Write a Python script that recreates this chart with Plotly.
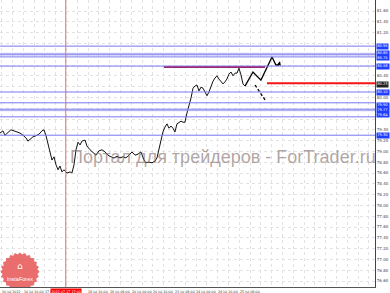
import math
import plotly.graph_objects as go

# ---- data ----
hours = [0, 2.2, 3.7, 5.9, 8.1, 10.4, 12.6, 14.8, 17.0, 19.3, 20.7, 22.2, 24.4, 26.7, 28.9, 31.1,
         32.6, 34.1, 35.6, 37.0, 38.5, 40.0, 41.5, 43.0, 44.4, 45.9, 47.4, 49.6, 51.9, 53.3, 54.8,
         56.3, 57.8, 59.3, 60.7, 63.0, 64.4, 66.7, 68.9, 71.1, 73.3, 75.6, 77.8, 80.0, 82.2, 84.4,
         86.7, 88.9, 91.1, 93.3, 95.6, 97.8, 100.0, 102.2, 104.4, 106.7, 108.1, 110.4, 112.6, 114.8,
         116.3, 117.8, 119.3, 120.7, 122.2, 123.7, 125.2, 126.7, 128.1, 129.6, 131.1, 132.6, 134.1,
         135.6, 137.0, 138.5, 140.0, 141.5, 143.0, 144.4, 145.9, 147.4, 148.9, 150.4, 151.9, 153.3,
         154.8, 156.3, 157.8, 159.3, 160.7, 162.2, 163.7, 165.2, 166.7, 168.1, 169.6, 171.1, 172.6,
         174.1, 175.6, 177.0, 178.5, 180.0, 181.5]
close = [79.34, 79.38, 79.30, 79.36, 79.40, 79.38, 79.36, 79.34, 79.30, 79.25, 79.19, 79.23, 79.27,
         79.29, 79.32, 79.38, 79.40, 79.29, 79.12, 78.99, 78.84, 78.90, 78.75, 78.66, 78.73, 78.62,
         78.66, 78.60, 78.62, 78.60, 78.75, 79.03, 79.17, 79.12, 79.19, 79.21, 79.10, 79.03, 78.97,
         78.93, 79.01, 79.03, 78.99, 78.93, 78.90, 78.88, 78.91, 78.88, 78.90, 78.88, 78.93, 78.99,
         78.93, 78.95, 78.99, 78.84, 78.79, 78.80, 78.79, 78.82, 78.88, 79.06, 79.25, 79.36, 79.45,
         79.51, 79.43, 79.47, 79.43, 79.36, 79.51, 79.53, 79.56, 79.54, 79.54, 79.71, 79.84, 79.99,
         80.17, 80.21, 80.23, 80.12, 80.19, 80.17, 80.10, 80.03, 80.10, 80.21, 80.30, 80.36, 80.40,
         80.34, 80.30, 80.25, 80.29, 80.34, 80.43, 80.47, 80.40, 80.45, 80.45, 80.54, 80.42, 80.25,
         80.21]

levels = [80.95, 80.80, 80.75, 80.58, 80.10, 79.90, 79.77, 79.64, 79.30]
band_levels = [80.80, 79.77]
# level price tags, grouped where tags touch on the axis
level_tags = [[80.95], [80.80, 80.75], [80.58], [80.10], [79.90, 79.77, 79.64], [79.30]]
current_price = 80.23

resistance_start, resistance_end, resistance_level = 121.5, 196.3, 80.56
red_start, red_level = 197.8, 80.26

forecast_hours = [181.5, 187.4, 193.3, 201.5, 204.4, 206.7]
forecast_price = [80.21, 80.47, 80.32, 80.75, 80.60, 80.60]
alt_hours = [188.9, 197.0]
alt_price = [80.23, 79.93]

vline_hour = 48.7
vline_label = "2012.07.17 17:00"
date_hours = [0, 16, 32, 64, 80, 96, 112, 128, 144, 160, 176]
date_labels = ["16 Jul 2012", "16 Jul 16:00", "17 Jul 08:00", "18 Jul 16:00",
               "19 Jul 08:00", "20 Jul 00:00", "20 Jul 16:00", "23 Jul 08:00", "24 Jul 00:00",
               "24 Jul 16:00", "25 Jul 08:00"]
price_ticks = [round(81.80 - 0.2 * k, 2) for k in range(27)]

X_RANGE = [0, 277.8]
Y_RANGE = [76.489, 81.804]

fig = go.Figure()

fig.add_trace(go.Scatter(x=hours, y=close, mode="lines",
                         line=dict(color="#111111", width=1), hoverinfo="skip"))
fig.add_trace(go.Scatter(x=forecast_hours, y=forecast_price, mode="lines",
                         line=dict(color="#000000", width=1.3), hoverinfo="skip"))
fig.add_trace(go.Scatter(x=alt_hours, y=alt_price, mode="lines",
                         line=dict(color="#000000", width=1.3, dash="3px,2px"), hoverinfo="skip"))

shapes = []
for lv in levels:
    shapes.append(dict(type="line", xref="paper", x0=0, x1=1, yref="y", y0=lv, y1=lv,
                       line=dict(color="rgb(120,120,240)", width=1), layer="above"))
for lv in band_levels:
    shapes.append(dict(type="line", xref="paper", x0=0, x1=1, yref="y", y0=lv, y1=lv,
                       line=dict(color="rgba(150,150,240,0.5)", width=3), layer="above"))
shapes.append(dict(type="line", xref="x", x0=resistance_start, x1=resistance_end, yref="y",
                   y0=resistance_level, y1=resistance_level,
                   line=dict(color="rgb(150,40,120)", width=1.6), layer="above"))
shapes.append(dict(type="line", xref="x", x0=red_start, x1=X_RANGE[1], yref="y",
                   y0=red_level, y1=red_level, line=dict(color="rgb(245,20,20)", width=2),
                   layer="above"))
shapes.append(dict(type="line", xref="x", x0=vline_hour, x1=vline_hour, yref="paper", y0=0, y1=1,
                   line=dict(color="rgb(240,110,110)", width=1), layer="above"))

# InstaForex seal (decorative)
cx, cy = 14.8, 76.77
rx, ry = 14.5, 0.36
pts = []
n = 48
for i in range(n):
    a = 2 * math.pi * i / n
    r = 1.0 if i % 2 == 0 else 0.9
    pts.append((cx + rx * r * math.cos(a), cy + ry * r * math.sin(a)))
path = "M " + " L ".join(f"{px:.3f},{py:.4f}" for px, py in pts) + " Z"
shapes.append(dict(type="path", path=path, xref="x", yref="y",
                   fillcolor="rgba(232,85,85,0.85)", line=dict(width=0), layer="above"))

annotations = []
annotations.append(dict(text="Портал для трейдеров - ForTrader.ru", xref="paper", yref="paper",
                        x=68 / 375, y=1 - 157 / 287, xanchor="left", yanchor="middle",
                        showarrow=False,
                        font=dict(family="Liberation Sans", size=18, color="rgba(125,105,105,0.6)")))
annotations.append(dict(text="InstaForex", x=cx, y=cy - 0.13, xref="x", yref="y", showarrow=False,
                        font=dict(family="Liberation Sans", size=5.5, color="white")))
annotations.append(dict(text="⌂", x=cx, y=cy + 0.1, xref="x", yref="y", showarrow=False,
                        font=dict(family="DejaVu Sans", size=9, color="white")))
for h, t in zip(date_hours, date_labels):
    annotations.append(dict(text=t, x=h, xref="x", y=0, yref="paper", yshift=-1,
                            xanchor="left", yanchor="top", showarrow=False,
                            font=dict(family="DejaVu Sans", size=3.3, color="#333333")))
annotations.append(dict(text=vline_label, x=vline_hour, xref="x", y=0, yref="paper", yshift=-1,
                        xanchor="center", yanchor="top", showarrow=False, bgcolor="#ff0000",
                        borderpad=0.5,
                        font=dict(family="DejaVu Sans", size=3.3, color="white")))
for grp in level_tags:
    ymid = sum(grp) / len(grp)
    annotations.append(dict(text="<br>".join(f"{v:.2f}" for v in grp), x=1, xref="paper",
                            y=ymid, yref="y", xshift=1, xanchor="left", yanchor="middle",
                            showarrow=False, bgcolor="#1f3fff", borderpad=0.3,
                            font=dict(family="DejaVu Sans", size=3.6, color="white")))
annotations.append(dict(text=f"{current_price:.2f}", x=1, xref="paper", y=current_price, yref="y",
                        xshift=1, xanchor="left", yanchor="middle", showarrow=False,
                        bgcolor="#222222", borderpad=0.3,
                        font=dict(family="DejaVu Sans", size=3.6, color="white")))
# arrow heads
annotations.append(dict(x=alt_hours[1], y=alt_price[1], ax=alt_hours[1] - 1.5,
                        ay=alt_price[1] + 0.045, xref="x", yref="y", axref="x", ayref="y",
                        showarrow=True, arrowhead=2, arrowsize=1, arrowwidth=1,
                        arrowcolor="#000000", text=""))
annotations.append(dict(x=207.4, y=80.67, ax=forecast_hours[-1], ay=forecast_price[-1],
                        xref="x", yref="y", axref="x", ayref="y", showarrow=True, arrowhead=2,
                        arrowsize=0.8, arrowwidth=1, arrowcolor="#000000", text=""))

# hide axis numbers that sit under a price tag (they are covered in the original)
tag_values = levels + [current_price]
tick_text = [("" if any(abs(v - t) < 0.07 for t in tag_values) else f"{v:.2f}")
             for v in price_ticks]

fig.update_layout(
    width=390, height=293,
    margin=dict(l=0, r=15, t=0, b=6),
    paper_bgcolor="white", plot_bgcolor="white",
    showlegend=False,
    shapes=shapes, annotations=annotations,
    xaxis=dict(range=X_RANGE, tick0=1.3, dtick=8, showticklabels=False, ticks="",
               showgrid=True, gridcolor="#e2e2e2", griddash="dot", gridwidth=1,
               zeroline=False, showline=True, linecolor="#555555", linewidth=1,
               fixedrange=True),
    yaxis=dict(range=Y_RANGE, side="right", tickmode="array", tickvals=price_ticks,
               ticktext=tick_text, ticks="",
               tickfont=dict(family="DejaVu Sans", size=4, color="#444444"),
               showgrid=True, gridcolor="#e2e2e2", griddash="dot", gridwidth=1,
               zeroline=False, showline=True, linecolor="#444444", linewidth=1,
               fixedrange=True),
)

fig.write_html("out.html")
